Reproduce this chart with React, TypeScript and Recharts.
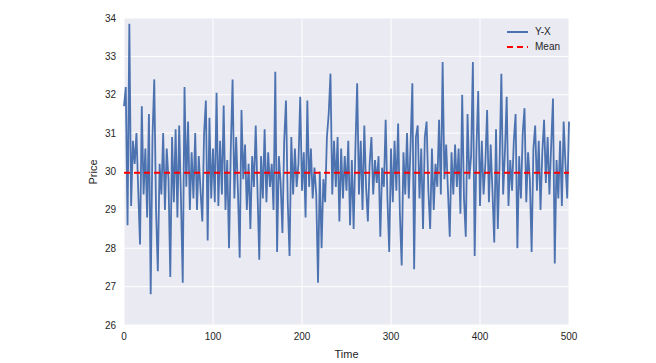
import React from "react";
import {
  LineChart,
  Line,
  XAxis,
  YAxis,
  CartesianGrid,
  ReferenceLine,
} from "recharts";

const spread = [
  31.7, 32.2, 28.6, 33.85, 29.1, 30.8, 30.2, 31.0, 29.5, 28.1,
  31.7, 29.4, 30.6, 28.8, 31.5, 26.8, 30.9, 32.4, 29.0, 27.4,
  30.2, 29.4, 31.0, 29.0, 30.6, 29.8, 27.25, 30.9, 29.2, 31.1,
  28.8, 31.2, 29.3, 27.1, 32.2, 29.6, 31.3, 29.0, 30.5, 29.3,
  31.0, 29.0, 30.4, 29.5, 28.7, 31.0, 31.85, 28.2, 31.4, 29.3,
  30.6, 29.2, 32.05, 29.1, 30.8, 29.4, 31.72, 29.0, 30.3, 28.0,
  30.6, 32.4, 29.3, 30.9, 29.5, 27.75, 31.6, 29.8, 30.7, 29.0,
  30.2, 28.5, 30.4, 29.6, 31.2, 29.5, 27.7, 30.4, 29.3, 31.1,
  29.2, 30.5, 29.6, 30.2, 29.0, 32.6, 27.9, 30.4, 29.7, 28.4,
  30.8, 31.85, 29.2, 27.8, 30.9, 29.4, 30.6, 29.6, 30.2, 31.95,
  29.5, 30.5, 28.8, 31.85, 29.6, 30.6, 29.3, 30.1, 29.4, 27.1,
  30.0, 28.0, 29.8, 29.2, 30.9, 31.5, 32.55, 29.4, 30.8, 29.6,
  30.9, 28.7, 30.6, 29.3, 30.4, 29.5, 30.8, 28.6, 30.3, 28.5,
  30.6, 32.3, 29.4, 30.8, 29.0, 31.2, 29.6, 28.7, 30.2, 30.9,
  29.4, 30.3, 29.7, 30.4, 28.3, 30.1, 29.6, 31.35, 29.3, 27.9,
  30.6, 29.2, 30.8, 29.5, 31.25, 28.9, 27.55, 30.5, 29.4, 31.0,
  29.3, 30.7, 32.3, 27.45, 30.9, 31.2, 29.3, 30.6, 28.5, 30.9,
  31.3, 29.5, 28.5, 30.6, 29.0, 30.2, 29.6, 31.35, 29.4, 32.85,
  29.8, 30.7, 29.5, 28.3, 30.5, 29.4, 30.7, 29.6, 30.6, 28.9,
  32.0, 29.3, 28.3, 31.5, 29.8, 30.4, 32.85, 27.8, 30.6, 32.1,
  29.1, 30.8, 29.4, 30.2, 31.6, 29.2, 30.7, 29.5, 28.15, 31.1,
  28.5, 30.2, 32.55, 29.4, 30.5, 31.95, 29.1, 30.3, 29.5, 30.8,
  31.5, 28.0, 30.4, 29.3, 31.0, 31.65, 29.2, 30.5, 29.8, 27.9,
  30.6, 31.2, 29.5, 30.8, 29.0, 30.5, 31.35, 29.7, 30.9, 29.4,
  30.7, 31.9, 27.6, 30.3, 29.3, 30.8, 29.1, 31.3, 30.2, 29.3,
  31.3,
];
const timeStep = 2;
const meanValue = 29.97;

const xTicks = [0, 100, 200, 300, 400, 500];
const yTicks = [26, 27, 28, 29, 30, 31, 32, 33, 34];

const data = spread.map((v, i) => ({ time: i * timeStep, spread: v }));

const font = "'Liberation Sans', Arial, sans-serif";
const textColor = "#262626";

// legend drawn as plain html over the plot, so it takes no space from the chart
const LegendBox = () => (
  <div
    style={{
      position: "absolute",
      left: 505,
      top: 24,
      fontFamily: font,
      fontSize: 10,
      color: textColor,
      lineHeight: "15px",
    }}
  >
    <div style={{ display: "flex", alignItems: "center" }}>
      <svg width={30} height={10}>
        <line x1={2} y1={5} x2={23} y2={5} stroke="#4C72B0" strokeWidth={2} />
      </svg>
      <span>Y-X</span>
    </div>
    <div style={{ display: "flex", alignItems: "center" }}>
      <svg width={30} height={10}>
        <line x1={2} y1={5} x2={23} y2={5} stroke="#FF0000" strokeWidth={2} strokeDasharray="6 4" />
      </svg>
      <span>Mean</span>
    </div>
  </div>
);

export default function App() {
  return (
    <div style={{ position: "absolute", left: 0, top: 0, width: 656, height: 363, background: "#fff" }}>
      <LineChart
        width={656}
        height={363}
        data={data}
        margin={{ top: 18, right: 87, bottom: 0, left: 0 }}
      >
        <CartesianGrid stroke="#ffffff" strokeWidth={1} fill="#EAEAF2" />
        <XAxis
          dataKey="time"
          type="number"
          domain={[0, 500]}
          ticks={xTicks}
          axisLine={false}
          tickLine={false}
          height={38}
          tick={{ fontSize: 10, fill: textColor, fontFamily: font }}
          label={{
            value: "Time",
            position: "insideBottom",
            offset: 5,
            style: { fontSize: 11, fill: textColor, fontFamily: font },
          }}
        />
        <YAxis
          type="number"
          domain={[26, 34]}
          ticks={yTicks}
          axisLine={false}
          tickLine={false}
          width={124}
          tick={{ fontSize: 10, fill: textColor, fontFamily: font }}
          label={{
            content: () => (
              <text
                x={93}
                y={172}
                transform="rotate(-90 93 172)"
                textAnchor="middle"
                dominantBaseline="central"
                style={{ fontSize: 11, fill: textColor, fontFamily: font }}
              >
                Price
              </text>
            ),
          }}
        />
        <Line
          type="linear"
          dataKey="spread"
          stroke="#4C72B0"
          strokeWidth={1.8}
          dot={false}
          isAnimationActive={false}
        />
        <ReferenceLine
          y={meanValue}
          stroke="#FF0000"
          strokeWidth={2}
          strokeDasharray="6 4"
        />
      </LineChart>
      <LegendBox />
    </div>
  );
}
